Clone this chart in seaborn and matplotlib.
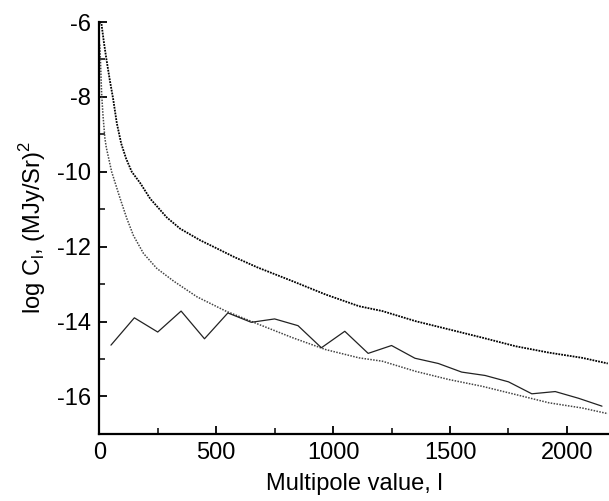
import matplotlib
matplotlib.use("Agg")
import matplotlib.pyplot as plt
import seaborn as sns
import pandas as pd
from matplotlib.ticker import MultipleLocator

# Upper noisy curve
upper_l = [2, 9, 20, 30, 45, 59, 75, 94, 115, 139, 175, 218, 289, 346, 432, 504,
           575, 675, 826, 969, 1111, 1211, 1353, 1496, 1638, 1781, 1923, 2066, 2175]
upper_v = [-6.0, -6.03, -6.55, -6.97, -7.55, -8.04, -8.7, -9.25, -9.65, -10.0, -10.3,
           -10.72, -11.22, -11.52, -11.83, -12.05, -12.27, -12.55, -12.92, -13.28,
           -13.59, -13.72, -13.99, -14.21, -14.43, -14.66, -14.83, -14.97, -15.12]

# Lower noisy curve
lower_l = [2, 5, 10, 16, 24, 30, 53, 89, 118, 146, 189, 246, 318, 418, 541, 684,
           826, 969, 1111, 1211, 1353, 1496, 1638, 1781, 1923, 2066, 2175]
lower_v = [-6.6, -7.0, -7.9, -8.5, -9.1, -9.35, -10.0, -10.71, -11.25, -11.7, -12.18,
           -12.58, -12.92, -13.34, -13.72, -14.08, -14.43, -14.75, -14.97, -15.06,
           -15.33, -15.55, -15.73, -15.95, -16.17, -16.31, -16.46]

# Binned measurement (solid line)
bin_l = [50, 150, 250, 350, 450, 550, 650, 750, 850, 950, 1050, 1150, 1250, 1350,
         1450, 1550, 1650, 1750, 1850, 1950, 2050, 2150]
bin_v = [-14.63, -13.90, -14.28, -13.72, -14.46, -13.77, -14.02, -13.93, -14.11,
         -14.70, -14.26, -14.85, -14.64, -14.98, -15.12, -15.35, -15.44, -15.61,
         -15.93, -15.87, -16.05, -16.26]

xticks = [0, 500, 1000, 1500, 2000]
yticks = [-16, -14, -12, -10, -8, -6]

sns.set_style("ticks")
plt.rcParams["font.family"] = ["Liberation Sans", "DejaVu Sans"]
plt.rcParams["mathtext.fontset"] = "custom"
plt.rcParams["mathtext.rm"] = "Liberation Sans"
plt.rcParams["text.color"] = "black"
plt.rcParams["axes.labelcolor"] = "black"
plt.rcParams["xtick.color"] = "black"
plt.rcParams["ytick.color"] = "black"

fig = plt.figure(figsize=(6.09, 5.01), dpi=100)
ax = fig.add_axes([0.163, 0.134, 0.837, 0.822])

df_u = pd.DataFrame({"l": upper_l, "v": upper_v})
df_lo = pd.DataFrame({"l": lower_l, "v": lower_v})
df_b = pd.DataFrame({"l": bin_l, "v": bin_v})

sns.lineplot(data=df_u, x="l", y="v", ax=ax, color="black", lw=1.3,
             linestyle=(0, (1.0, 0.6)), sort=False, clip_on=False)
sns.lineplot(data=df_lo, x="l", y="v", ax=ax, color="#444444", lw=1.1,
             linestyle=(0, (1.0, 0.9)), sort=False, clip_on=False)
sns.lineplot(data=df_b, x="l", y="v", ax=ax, color="#222222", lw=0.9,
             sort=False, clip_on=False)

ax.set_xlim(0, 2180)
ax.set_ylim(-17, -6)
ax.set_xticks(xticks)
ax.set_yticks(yticks)
ax.set_xticklabels([str(t) for t in xticks])
ax.set_yticklabels([str(t) for t in yticks])
ax.xaxis.set_minor_locator(MultipleLocator(250))
ax.yaxis.set_minor_locator(MultipleLocator(1))

for s in ["top", "right"]:
    ax.spines[s].set_visible(False)
for s in ["left", "bottom"]:
    ax.spines[s].set_linewidth(1.6)
    ax.spines[s].set_color("black")

ax.tick_params(which="major", direction="in", length=5.5, width=1.3,
               labelsize=17, pad=6, colors="black", labelcolor="black")
ax.tick_params(which="minor", direction="in", length=4, width=1.1, colors="black")

ax.set_xlabel("Multipole value, l", fontsize=17, labelpad=6, color="black")
ax.set_ylabel(r"log C$_\mathregular{l}$, (MJy/Sr)$^\mathregular{2}$", fontsize=17,
              labelpad=6, color="black")

fig.savefig("out.png", dpi=100)
